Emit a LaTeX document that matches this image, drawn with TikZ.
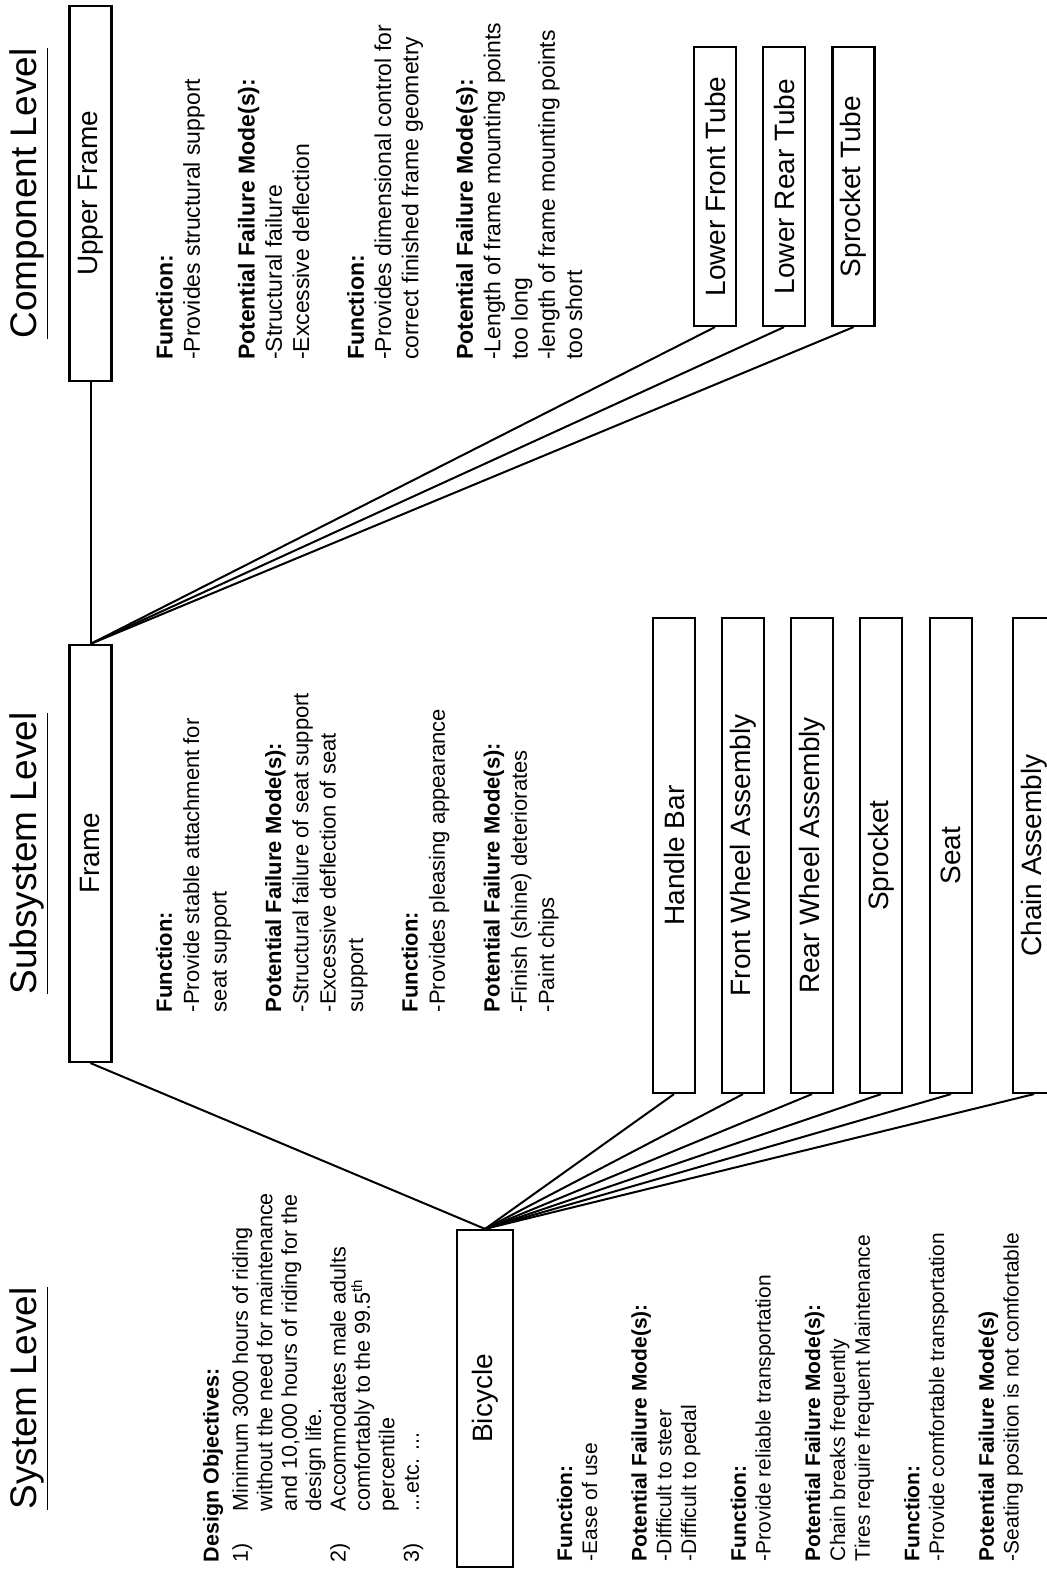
\documentclass[tikz,border=0pt]{standalone}
\usepackage{fontspec}
\setmainfont{Liberation Sans}

\begin{document}
\begin{tikzpicture}[x=0.5pt,y=-0.5pt,line width=1pt,
  level box/.style={draw,rotate=90,line width=1.1pt,inner sep=0pt,
    minimum height=21pt,font=\fontsize{14}{16}\selectfont},
  level title/.style={rotate=90,inner sep=0pt,anchor=south,
    font=\fontsize{18.5}{22}\selectfont},
  info text/.style={rotate=90,anchor=north west,align=left,inner sep=0pt}]
  \useasboundingbox (0,0) rectangle (1046,1572);

  % boxes
  \node[level box,minimum width=187.5pt] (upperframe) at (90.5,193.5) {Upper Frame};
  \node[level box,minimum width=208.5pt] (frame) at (90.5,853.5) {Frame};
  \node[level box,minimum width=168.5pt,minimum height=28pt] (bicycle) at (485,1398.5) {Bicycle};
  \foreach \name/\txt/\xpos in {lowerfront/Lower Front Tube/715,
      lowerrear/Lower Rear Tube/784, sprockettube/Sprocket Tube/853.5}
    \node[level box,minimum width=139.5pt] (\name) at (\xpos,186.5) {\txt};
  \foreach \name/\txt/\xpos in {handlebar/Handle Bar/674,
      frontwheel/Front Wheel Assembly/743, rearwheel/Rear Wheel Assembly/812,
      sprocket/Sprocket/881, seat/Seat/951, chain/Chain Assembly/1034}
    \node[level box,minimum width=237.5pt] (\name) at (\xpos,855.5) {\txt};

  % level titles
  \node[level title] (complevel) at ([xshift=-9.5pt]upperframe.north) {\underline{Component Level}};
  \node[level title] (subsyslevel) at ([xshift=-9.5pt]frame.north) {\underline{Subsystem Level}};
  \node[level title] (syslevel) at ([xshift=-9.5pt]frame.north |- bicycle.north) {\underline{System Level}};

  % connectors
  \path
    (frame.east) edge (upperframe.west)
    (frame.east) edge (lowerfront.west)
    (frame.east) edge (lowerrear.west)
    (frame.east) edge (sprockettube.west)
    (frame.west) edge (bicycle.east)
  ;
  \foreach \name in {handlebar,frontwheel,rearwheel,sprocket,seat,chain}
    \draw (bicycle.east) -- (\name.west);

  % texts
  \node[info text,font=\fontsize{11.5}{13.65}\selectfont] (comptext) at (155,361) {%
    \textbf{Function:}\\
    -Provides structural support\\[13.65pt]
    \textbf{Potential Failure Mode(s):}\\
    -Structural failure\\
    -Excessive deflection\\[13.65pt]
    \textbf{Function:}\\
    -Provides dimensional control for\\
    correct finished frame geometry\\[13.65pt]
    \textbf{Potential Failure Mode(s):}\\
    -Length of frame mounting points\\
    too long\\
    -length of frame mounting points\\
    too short};
  \node[info text,font=\fontsize{11}{13.65}\selectfont] (subsystext) at (155,1013) {%
    \textbf{Function:}\\
    -Provide stable attachment for\\
    seat support\\[13.65pt]
    \textbf{Potential Failure Mode(s):}\\
    -Structural failure of seat support\\
    -Excessive deflection of seat\\
    support\\[13.65pt]
    \textbf{Function:}\\
    -Provides pleasing appearance\\[13.65pt]
    \textbf{Potential Failure Mode(s):}\\
    -Finish (shine) deteriorates\\
    -Paint chips};
  \node[info text,font=\fontsize{10.75}{12.2}\selectfont] (objectives) at (202,1563) {%
    \textbf{Design Objectives:}\\[2.5pt]
    \makebox[25.5pt][l]{1)}Minimum 3000 hours of riding\\
    \hspace*{25.5pt}without the need for maintenance\\
    \hspace*{25.5pt}and 10,000 hours of riding for the\\
    \hspace*{25.5pt}design life.\\
    \makebox[25.5pt][l]{2)}Accommodates male adults\\
    \hspace*{25.5pt}comfortably to the 99.5\textsuperscript{th}\\
    \hspace*{25.5pt}percentile\\
    \makebox[25.5pt][l]{3)}...etc. ...};
  \node[info text,font=\fontsize{10.5}{12.4}\selectfont] (systext) at (556,1562) {%
    \textbf{Function:}\\
    -Ease of use\\[12.4pt]
    \textbf{Potential Failure Mode(s):}\\
    -Difficult to steer\\
    -Difficult to pedal\\[12.4pt]
    \textbf{Function:}\\
    -Provide reliable transportation\\[12.4pt]
    \textbf{Potential Failure Mode(s):}\\
    Chain breaks frequently\\
    Tires require frequent Maintenance\\[12.4pt]
    \textbf{Function:}\\
    -Provide comfortable transportation\\[12.4pt]
    \textbf{Potential Failure Mode(s)}\\
    -Seating position is not comfortable};
\end{tikzpicture}
\end{document}
